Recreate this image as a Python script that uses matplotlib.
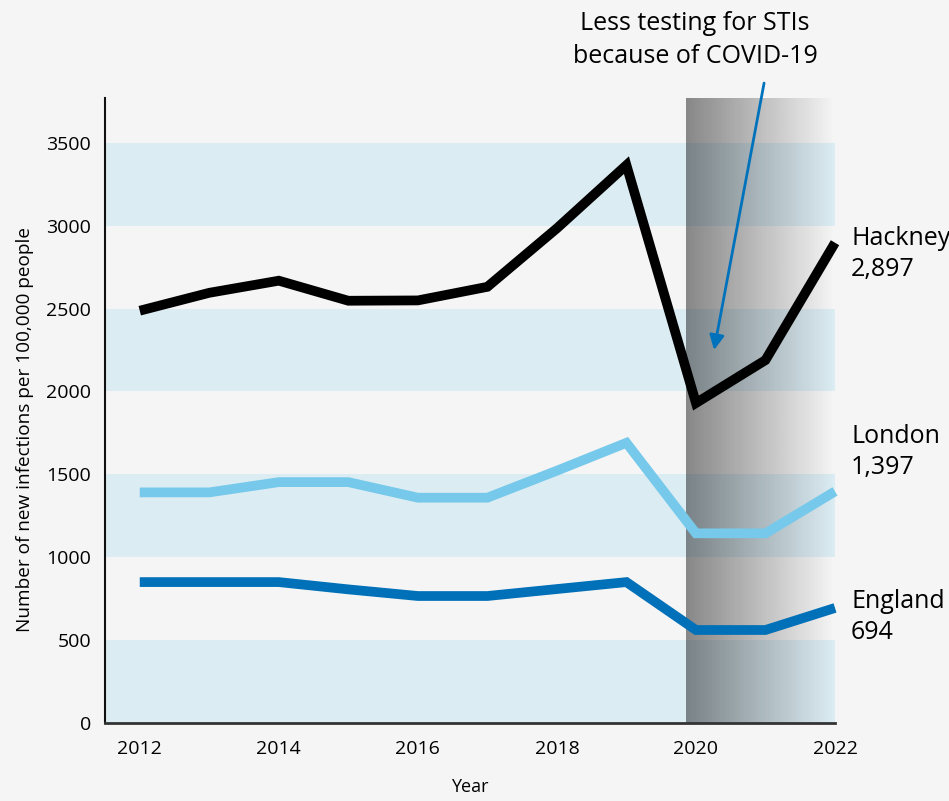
import numpy as np
import matplotlib
matplotlib.use("Agg")
import matplotlib.pyplot as plt

plt.rcParams['font.family'] = ['Open Sans', 'DejaVu Sans']

years = [2012, 2013, 2014, 2015, 2016, 2017, 2018, 2019, 2020, 2021, 2022]
hackney = [2487, 2595, 2668, 2547, 2549, 2631, 2984, 3365, 1930, 2189, 2897]
london = [1391, 1391, 1453, 1453, 1359, 1359, 1522, 1690, 1144, 1144, 1397]
england = [850, 850, 850, 806, 766, 766, 808, 850, 561, 561, 694]

series_names = ['Hackney', 'London', 'England']
series_labels = ['Hackney\n2,897', 'London\n1,397', 'England\n694']
band_ranges = [(0, 500), (1000, 1500), (2000, 2500), (3000, 3500)]
covid_start = 2019.86

bg = '#f5f5f5'
band_color = '#dcecf3'
colors = {'Hackney': '#000000', 'London': '#76c9ea', 'England': '#0070b8'}

fig = plt.figure(figsize=(9.49, 8.01), dpi=100, facecolor=bg)
ax = fig.add_axes([105/949, 1 - 723/801, 730/949, 625/801])
ax.set_facecolor(bg)

ymax = 3770
ax.set_xlim(2011.5, 2022)
ax.set_ylim(0, ymax)

# alternating bands
for lo, hi in band_ranges:
    ax.axhspan(lo, hi, color=band_color, lw=0, zorder=1)

# grey gradient for covid years
grad = np.zeros((2, 256, 4))
grad[..., 3] = np.linspace(0.45, 0.0, 256)[None, :]
ax.imshow(grad, extent=(covid_start, 2022, 0, ymax), aspect='auto',
          interpolation='bilinear', zorder=2)

data = {'Hackney': hackney, 'London': london, 'England': england}
for name in series_names:
    ax.plot(years, data[name], color=colors[name], lw=7, zorder=3,
            solid_joinstyle='miter', solid_capstyle='butt', clip_on=False)

# annotation arrow
ax.annotate('', xy=(2020.26, 2250), xytext=(2020.98, 3860),
            arrowprops=dict(arrowstyle='-|>', color='#0072bc', lw=2,
                            mutation_scale=22, shrinkA=0, shrinkB=0),
            annotation_clip=False, zorder=4)
fig.text(695/949, 1 - 40/801, 'Less testing for STIs\nbecause of COVID-19',
         ha='center', va='center', fontsize=18, linespacing=1.4)

# end labels
label_y = [254, 452, 617]
for lab, py in zip(series_labels, label_y):
    fig.text(851/949, 1 - py/801, lab, ha='left', va='center',
             fontsize=18, linespacing=1.3)

ax.set_xticks([2012, 2014, 2016, 2018, 2020, 2022])
ax.set_yticks([0, 500, 1000, 1500, 2000, 2500, 3000, 3500])
ax.tick_params(axis='both', length=0, labelsize=14)
ax.tick_params(axis='y', pad=10)
ax.tick_params(axis='x', pad=12)

ax.set_xlabel('Year', fontsize=13, labelpad=15)
ax.set_ylabel('Number of new infections per 100,000 people', fontsize=13.7, va='center')
ax.yaxis.set_label_coords(-0.11, 0.469)

for s in ['top', 'right']:
    ax.spines[s].set_visible(False)
ax.spines['left'].set_color('#111111')
ax.spines['left'].set_linewidth(1.5)
ax.spines['bottom'].set_color('#333333')
ax.spines['bottom'].set_linewidth(2)
ax.spines['left'].set_zorder(5)
ax.spines['bottom'].set_zorder(5)

fig.savefig('out.png', dpi=100, facecolor=bg)
